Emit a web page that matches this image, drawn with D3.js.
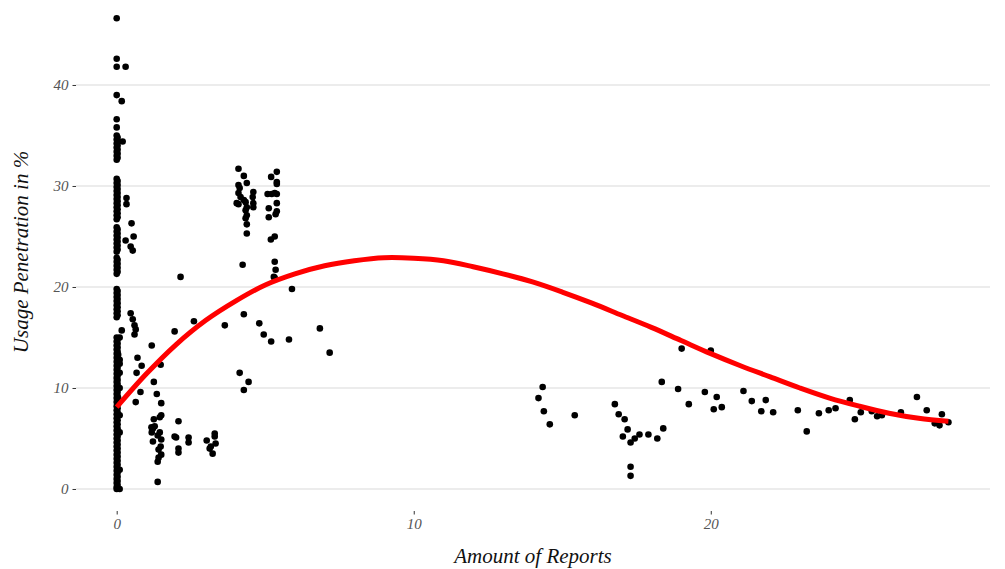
<!DOCTYPE html>
<html><head><meta charset="utf-8">
<script src="https://cdn.jsdelivr.net/npm/d3@7"></script>
<style>
html,body{margin:0;padding:0;background:#fff;}
svg{display:block;}
</style></head>
<body>
<svg id="chart" width="1005" height="569"></svg>
<script>
// ---- data ----
const zeroColumnY = [46.6,42.6,41.8,39.0,36.6,35.8,35.0,34.6,34.2,33.8,33.4,33.0,32.6,30.7,30.3,29.9,29.5,29.1,28.7,28.3,27.9,27.5,27.1,26.7,25.9,25.5,25.1,24.7,24.3,23.9,23.5,22.9,22.5,22.1,21.7,21.3,19.8,19.4,19.0,18.6,18.2,17.8,17.4,17.0,15.0,14.6,14.2,13.8,13.4,13.0,12.6,12.2,11.8,11.4,11.0,10.6,10.2,9.8,9.4,9.0,8.6,8.2,7.8,7.4,7.0,6.6,6.2,5.8,5.4,5.0,4.6,4.2,3.8,3.4,3.0,2.6,2.2,1.8,1.4,1.0,0.6,0.2,0.0];
const zeroColumnDenseY = [34.8,34.4,34.0,33.6,33.2,32.8,30.5,30.1,29.7,29.3,28.9,28.5,28.1,27.7,27.3,26.9,25.7,25.3,24.9,24.5,24.1,23.7,22.7,22.3,21.9,21.5,19.6,19.2,18.8,18.4,18.0,17.6,17.2,14.8,14.4,14.0,13.6,13.2,12.8,12.4,12.0,11.6,11.2,10.8,10.4,10.0,9.6,9.2,8.8,8.4,8.0,7.6,7.2,6.8,6.4,6.0,5.6,5.2,4.8,4.4,4.0,3.6,3.2,2.8,2.4,2.0,1.6,1.2,0.8,0.4];
const reportsX = [0.1,0.1,0.1,0.1,0.1,0.1,0.1,0.1,0.1,0.05,0.05,
 0.3,0.17,0.2,0.33,0.33,0.5,0.57,0.3,0.47,0.54,
 0.47,0.54,0.6,0.64,0.6,0.17,1.95,2.6,2.15,1.18,
 0.7,0.84,0.67,1.48,1.25,0.8,0.64,1.35,1.5,
 1.25,1.45,1.5,1.17,1.22,1.28,1.18,1.45,1.38,1.5,1.22,1.48,1.41,1.5,1.41,1.38,1.38,
 2.08,1.95,2.0,2.08,2.08,2.42,2.42,3.03,3.3,3.3,3.17,3.23,3.33,3.13,
 3.64,4.28,4.8,4.95,5.2,5.8,6.84,7.17,4.14,4.44,4.28,
 4.1,4.28,4.38,4.1,4.14,4.1,4.17,4.04,4.1,4.28,4.34,4.38,4.34,4.38,4.34,4.38,4.38,4.6,4.58,4.6,4.6,4.24,
 5.39,5.2,5.39,5.39,5.08,5.22,5.32,5.39,5.39,5.12,5.39,5.35,5.12,5.19,5.32,5.32,5.35,5.29,5.32,5.9,
 14.34,14.2,14.38,14.58,15.42,16.77,16.9,17.1,17.2,17.04,17.3,17.44,17.6,17.9,18.2,18.4,18.35,18.9,19.26,19.8,20.2,20.1,20.37,21.1,21.38,21.7,21.85,17.3,17.3,19.02,20.0,
 22.1,22.93,23.23,23.64,23.97,24.2,24.68,24.85,25.05,25.42,25.6,25.76,26.4,26.94,27.27,27.54,27.7,27.78,28.0];
const penetrationY = [15.0,12.8,12.4,11.5,10.0,7.3,5.6,1.9,0.0,13.3,9.0,
 41.8,38.4,34.4,28.8,28.2,26.3,25.0,24.6,24.0,23.6,
 17.4,16.8,16.2,15.8,15.3,15.7,15.6,16.6,21.0,14.2,
 13.0,12.2,11.5,12.3,10.6,9.6,8.6,9.4,8.5,
 6.9,7.1,7.3,6.1,6.0,6.2,5.6,5.6,5.3,4.9,4.7,4.2,3.9,3.4,3.1,2.7,0.7,
 6.7,5.2,5.1,4.0,3.6,5.1,4.6,4.8,5.5,5.2,4.2,3.5,4.5,4.0,
 16.2,17.3,16.4,15.3,14.6,14.8,15.9,13.5,11.5,10.6,9.8,
 31.7,31.0,30.3,30.1,29.8,29.3,28.9,28.3,28.2,28.6,28.4,27.9,27.6,27.1,26.8,26.2,25.3,29.4,28.9,28.3,27.9,22.2,
 31.4,30.9,30.4,30.2,29.2,29.2,29.3,29.2,28.3,27.8,27.5,27.2,26.9,24.7,25.0,22.5,21.7,21.0,20.9,19.8,
 10.1,9.0,7.7,6.4,7.3,8.4,7.4,6.9,5.9,5.2,4.6,5.0,5.4,5.4,5.0,6.0,10.6,9.9,8.4,9.6,9.1,7.9,8.1,9.7,8.7,7.7,8.8,2.2,1.3,13.9,13.7,
 7.6,7.8,5.7,7.5,7.8,8.0,8.8,6.9,7.6,7.7,7.2,7.3,7.6,9.1,7.8,6.5,6.3,7.4,6.6];
const smoothX = [0,1,2,3,4,5,6,7,8,9,10,11,12,13,14,15,16,17,18,19,20,21,22,23,24,25,26,27,28];
const smoothY = [8.1,11.4,14.3,16.7,18.6,20.2,21.3,22.1,22.6,22.9,22.85,22.6,22.0,21.3,20.5,19.5,18.4,17.2,16.0,14.7,13.4,12.2,11.1,10.0,9.0,8.2,7.5,7.0,6.7];
const xTicks = [0,10,20];
const yTicks = [0,10,20,30,40];
const xTitle = "Amount of Reports";
const yTitle = "Usage Penetration in %";

// ---- drawing ----
const svg = d3.select("#chart");
const FONT = "'Liberation Serif', 'Times New Roman', serif";
const x = d3.scaleLinear().domain([-1.37, 29.4]).range([76, 990]);
const y = d3.scaleLinear().domain([-2.18, 47.82]).range([511, 6]);

const points = zeroColumnY.map(v => ({x: 0, y: v}))
  .concat(zeroColumnDenseY.map(v => ({x: 0.03, y: v})))
  .concat(reportsX.map((v, i) => ({x: v, y: penetrationY[i]})));

// grid
svg.append("g").selectAll("line").data(yTicks).join("line")
  .attr("x1", 76).attr("x2", 990)
  .attr("y1", d => y(d)).attr("y2", d => y(d))
  .attr("stroke", "#d9d9d9").attr("stroke-width", 1.1);

// y axis
const yAxis = svg.append("g").attr("transform", "translate(76,0)")
  .call(d3.axisLeft(y).tickValues(yTicks).tickSize(3.5).tickPadding(4).tickFormat(d3.format("d")));
yAxis.select(".domain").remove();
yAxis.selectAll(".tick line").attr("stroke", "#333");
yAxis.selectAll("text").attr("fill", "#555").style("font-family", FONT)
  .style("font-style", "italic").style("font-size", "15px");

// x axis
const xAxis = svg.append("g").attr("transform", "translate(0,511)")
  .call(d3.axisBottom(x).tickValues(xTicks).tickSize(3.5).tickPadding(4).tickFormat(d3.format("d")));
xAxis.select(".domain").remove();
xAxis.selectAll(".tick line").attr("stroke", "#333");
xAxis.selectAll("text").attr("fill", "#555").style("font-family", FONT)
  .style("font-style", "italic").style("font-size", "15px");

// points
svg.append("g").selectAll("circle").data(points).join("circle")
  .attr("cx", d => x(d.x)).attr("cy", d => y(d.y)).attr("r", 3.3).attr("fill", "#000");

// smooth curve
const line = d3.line().x(d => x(d[0])).y(d => y(d[1])).curve(d3.curveCatmullRom);
svg.append("path").datum(smoothX.map((v, i) => [v, smoothY[i]]))
  .attr("d", line).attr("fill", "none").attr("stroke", "#ff0000")
  .attr("stroke-width", 5).attr("stroke-linecap", "butt");

// titles
svg.append("text").attr("x", 533).attr("y", 563).attr("text-anchor", "middle")
  .style("font-family", FONT).style("font-style", "italic").style("font-size", "21px")
  .attr("fill", "#111").text(xTitle);
svg.append("text").attr("transform", "translate(28,252) rotate(-90)").attr("text-anchor", "middle")
  .style("font-family", FONT).style("font-style", "italic").style("font-size", "21px")
  .attr("fill", "#111").text(yTitle);
</script>
</body></html>
